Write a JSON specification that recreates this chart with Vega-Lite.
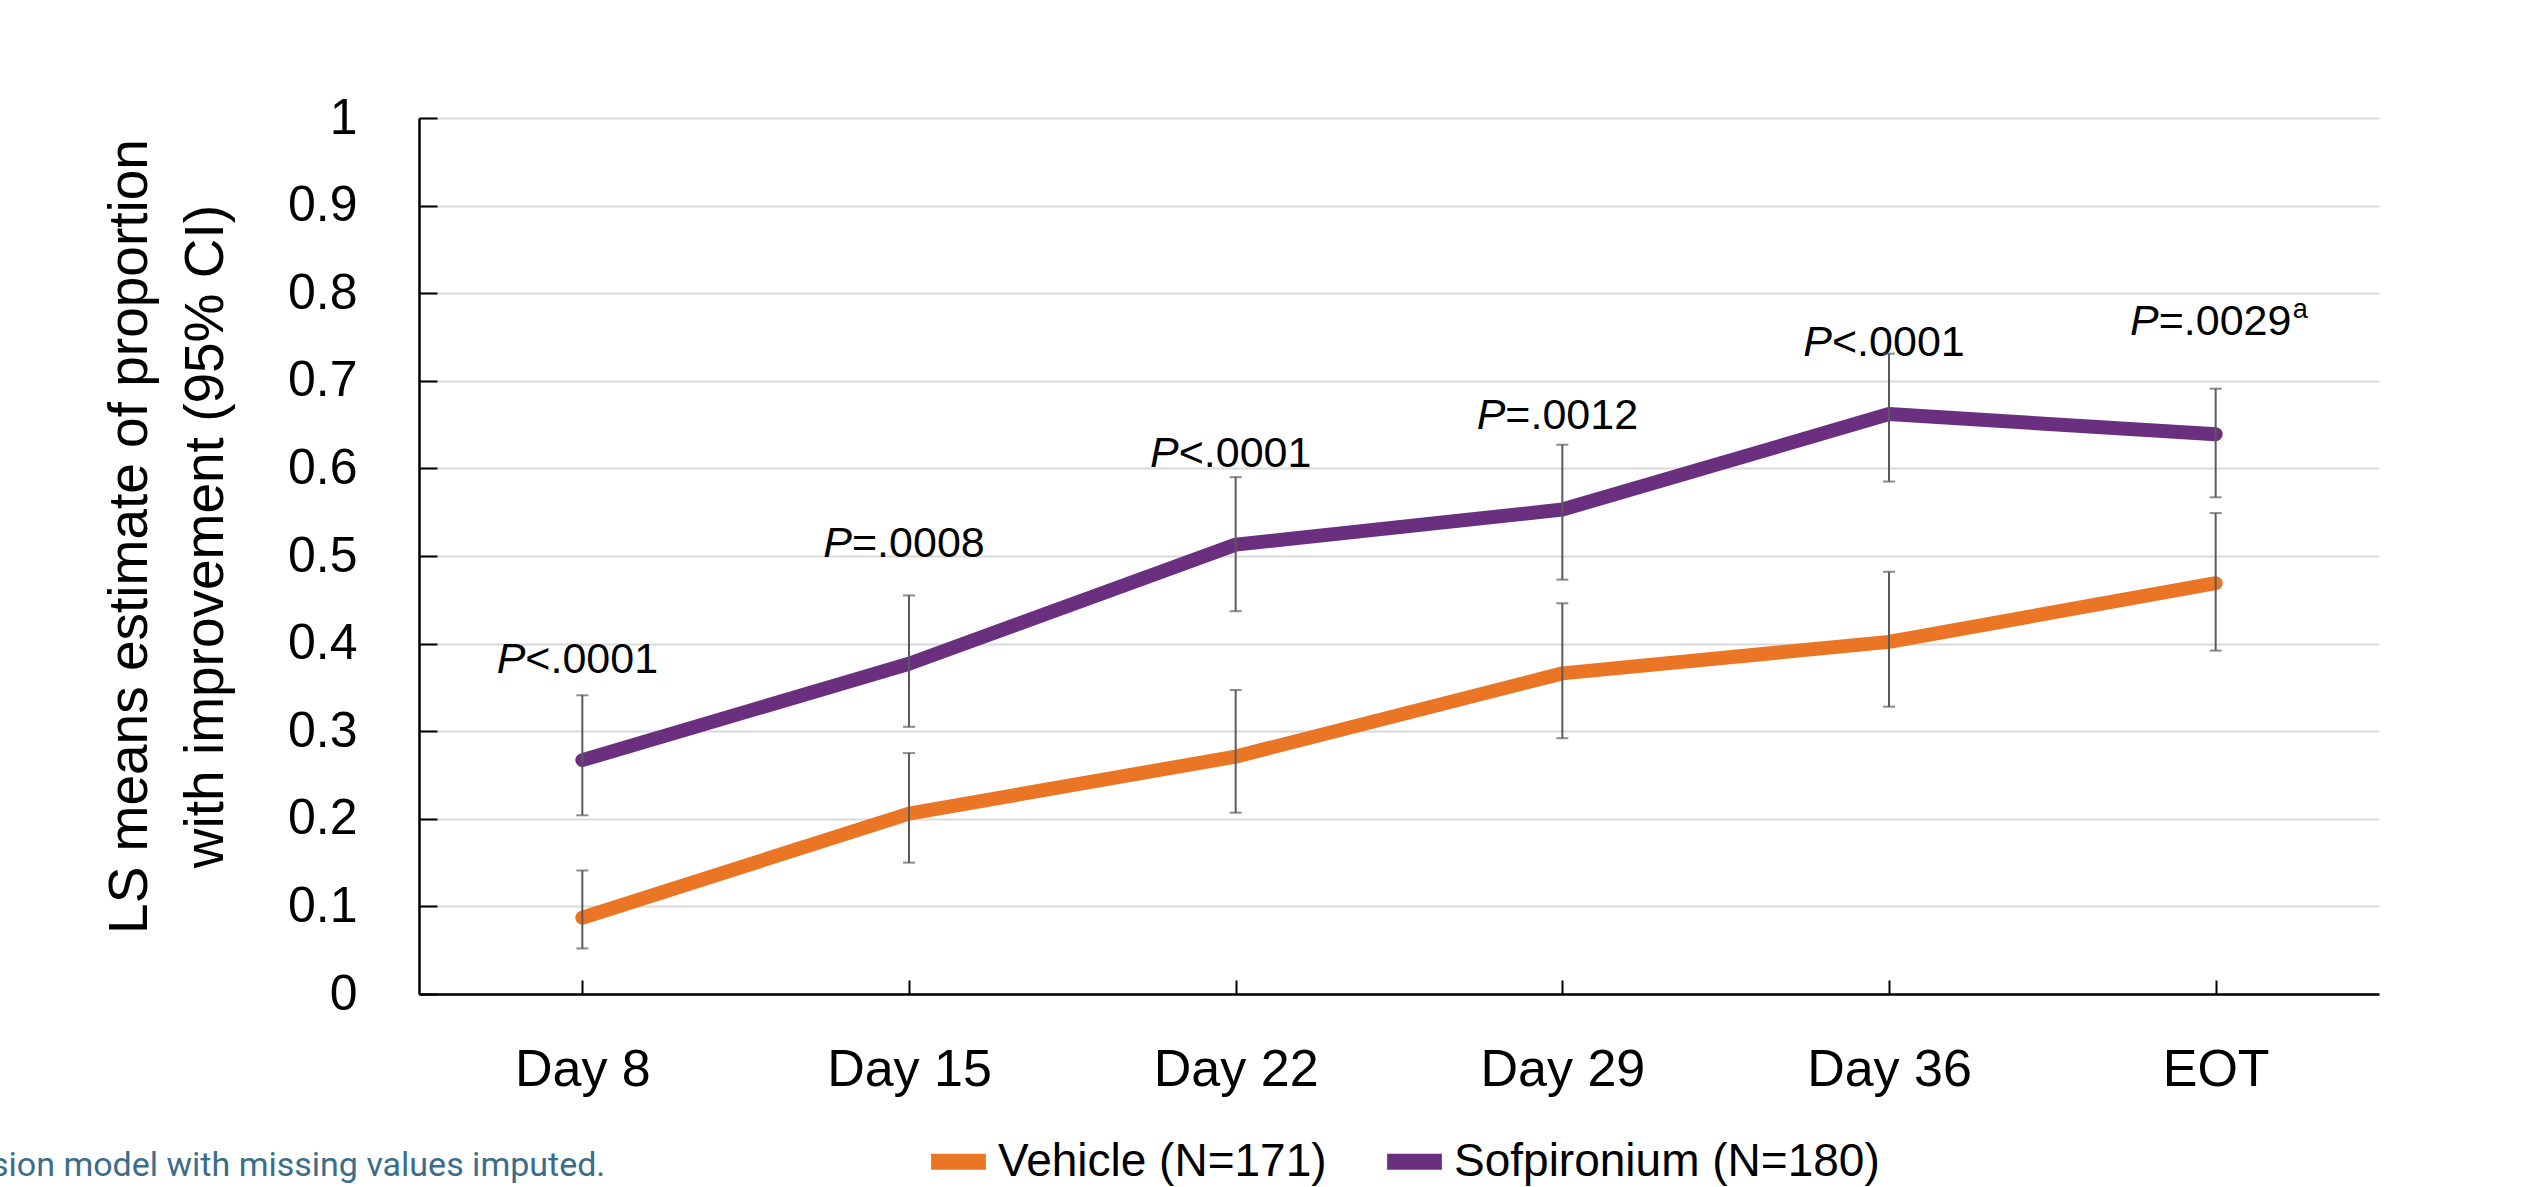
{
  "$schema": "https://vega.github.io/schema/vega-lite/v6.json",
  "width": 1960,
  "height": 876,
  "autosize": {"type": "none"},
  "padding": {"left": 419, "top": 118, "right": 152, "bottom": 193},
  "background": "white",
  "datasets": {
    "series": [
      {"visit": "Day 8", "group": "Vehicle (N=171)", "est": 0.087, "lo": 0.052, "hi": 0.141},
      {"visit": "Day 15", "group": "Vehicle (N=171)", "est": 0.206, "lo": 0.150, "hi": 0.275},
      {"visit": "Day 22", "group": "Vehicle (N=171)", "est": 0.271, "lo": 0.207, "hi": 0.347},
      {"visit": "Day 29", "group": "Vehicle (N=171)", "est": 0.366, "lo": 0.292, "hi": 0.446},
      {"visit": "Day 36", "group": "Vehicle (N=171)", "est": 0.402, "lo": 0.328, "hi": 0.482},
      {"visit": "EOT", "group": "Vehicle (N=171)", "est": 0.469, "lo": 0.392, "hi": 0.549},
      {"visit": "Day 8", "group": "Sofpironium (N=180)", "est": 0.267, "lo": 0.204, "hi": 0.341},
      {"visit": "Day 15", "group": "Sofpironium (N=180)", "est": 0.377, "lo": 0.305, "hi": 0.455},
      {"visit": "Day 22", "group": "Sofpironium (N=180)", "est": 0.513, "lo": 0.437, "hi": 0.590},
      {"visit": "Day 29", "group": "Sofpironium (N=180)", "est": 0.553, "lo": 0.473, "hi": 0.627},
      {"visit": "Day 36", "group": "Sofpironium (N=180)", "est": 0.662, "lo": 0.585, "hi": 0.731},
      {"visit": "EOT", "group": "Sofpironium (N=180)", "est": 0.639, "lo": 0.567, "hi": 0.691}
    ],
    "pvals": [
      {"visit": "Day 8", "py": 0.366, "rest": "<.0001", "sup": ""},
      {"visit": "Day 15", "py": 0.499, "rest": "=.0008", "sup": ""},
      {"visit": "Day 22", "py": 0.602, "rest": "<.0001", "sup": ""},
      {"visit": "Day 29", "py": 0.645, "rest": "=.0012", "sup": ""},
      {"visit": "Day 36", "py": 0.728, "rest": "<.0001", "sup": ""},
      {"visit": "EOT", "py": 0.752, "rest": "=.0029", "sup": "a"}
    ]
  },
  "title": {
    "text": "sion model with missing values imputed.",
    "orient": "bottom",
    "anchor": "start",
    "frame": "group",
    "dx": -428,
    "offset": -45,
    "font": "Roboto",
    "fontSize": 34,
    "fontWeight": "normal",
    "color": "#3a6d8a"
  },
  "config": {
    "view": {"stroke": null}
  },
  "encoding": {
    "x": {
      "field": "visit",
      "type": "nominal",
      "sort": ["Day 8", "Day 15", "Day 22", "Day 29", "Day 36", "EOT"],
      "scale": {"type": "point", "padding": 0.5},
      "axis": {
        "title": null,
        "labelAngle": 0,
        "labelFont": "Liberation Sans",
        "labelFontSize": 52,
        "labelColor": "black",
        "labelPadding": 64,
        "tickSize": -14,
        "tickColor": "black",
        "tickWidth": 2,
        "domainColor": "black",
        "domainWidth": 2.5,
        "grid": false
      }
    }
  },
  "layer": [
    {
      "data": {"name": "series"},
      "mark": {"type": "line", "strokeWidth": 14, "strokeCap": "round", "strokeJoin": "round"},
      "encoding": {
        "y": {
          "field": "est",
          "type": "quantitative",
          "title": ["LS means estimate of proportion", "with improvement (95% CI)"],
          "scale": {"domain": [0, 1]},
          "axis": {
            "values": [0, 0.1, 0.2, 0.3, 0.4, 0.5, 0.6, 0.7, 0.8, 0.9, 1],
            "format": ".1~f",
            "grid": true,
            "gridColor": "#d9d9d9",
            "gridWidth": 2,
            "domainColor": "black",
            "domainWidth": 2.5,
            "tickColor": "black",
            "tickWidth": 2,
            "tickSize": -18,
            "labelPadding": 80,
            "labelFont": "Liberation Sans",
            "labelFontSize": 50,
            "labelColor": "black",
            "titleFont": "Liberation Sans",
            "titleFontSize": 55,
            "titleFontWeight": "normal",
            "titleColor": "black",
            "titleLineHeight": 76,
            "titleAngle": -90,
            "titleAlign": "center",
            "titleBaseline": "middle",
            "titleX": -290,
            "titleY": 418
          }
        },
        "color": {
          "field": "group",
          "type": "nominal",
          "scale": {"domain": ["Vehicle (N=171)", "Sofpironium (N=180)"], "range": ["#EA7525", "#6B2F80"]},
          "legend": {
            "orient": "none",
            "legendX": 504,
            "legendY": 1008,
            "direction": "horizontal",
            "title": null,
            "symbolType": "stroke",
            "symbolStrokeWidth": 16,
            "symbolSize": 3000,
            "labelFont": "Liberation Sans",
            "labelFontSize": 46,
            "labelColor": "black",
            "labelLimit": 0,
            "labelOffset": 4,
            "columnPadding": 28
          }
        }
      }
    },
    {
      "data": {"name": "pvals"},
      "mark": {"type": "text", "text": "P", "align": "right", "baseline": "alphabetic", "fontStyle": "italic", "font": "Liberation Sans", "fontSize": 43, "color": "black", "dx": -57},
      "encoding": {
        "y": {"field": "py", "type": "quantitative", "title": ["LS means estimate of proportion", "with improvement (95% CI)"]}
      }
    },
    {
      "data": {"name": "pvals"},
      "mark": {"type": "text", "align": "left", "baseline": "alphabetic", "font": "Liberation Sans", "fontSize": 43, "color": "black", "dx": -57},
      "encoding": {
        "y": {"field": "py", "type": "quantitative", "title": ["LS means estimate of proportion", "with improvement (95% CI)"]},
        "text": {"field": "rest"}
      }
    },
    {
      "data": {"name": "pvals"},
      "transform": [{"filter": "datum.sup != ''"}],
      "mark": {"type": "text", "align": "left", "baseline": "alphabetic", "font": "Liberation Sans", "fontSize": 27, "color": "black", "dx": 77, "dy": -17},
      "encoding": {
        "y": {"field": "py", "type": "quantitative", "title": ["LS means estimate of proportion", "with improvement (95% CI)"]},
        "text": {"field": "sup"}
      }
    },
    {
      "data": {"name": "series"},
      "mark": {
        "type": "errorbar",
        "ticks": {"size": 12, "thickness": 2, "color": "#5a5a5a"},
        "rule": {"strokeWidth": 2, "color": "#5a5a5a"}
      },
      "encoding": {
        "y": {"field": "lo", "type": "quantitative", "title": ["LS means estimate of proportion", "with improvement (95% CI)"]},
        "y2": {"field": "hi"}
      }
    }
  ]
}
